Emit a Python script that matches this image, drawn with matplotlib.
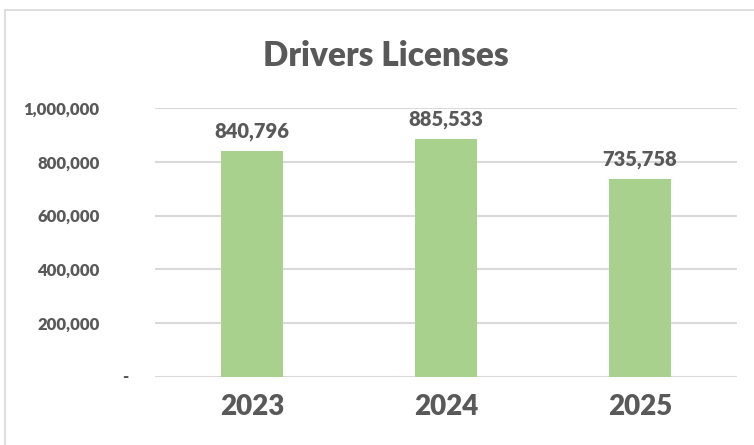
import matplotlib
matplotlib.use("Agg")
import matplotlib.pyplot as plt
from matplotlib.patches import Rectangle
from matplotlib.ticker import FuncFormatter

years = ["2023", "2024", "2025"]
licenses = [840796, 885533, 735758]
y_ticks = [0, 200000, 400000, 600000, 800000, 1000000]

plt.rcParams['font.family'] = ['Lato', 'DejaVu Sans']
text_color = "#595959"
weight = "heavy"

fig = plt.figure(figsize=(7.54, 4.45), dpi=100)
ax = fig.add_axes([0.2056, 0.1528, 0.7719, 0.6045])

# light chart border like the spreadsheet frame
fig.patches.append(Rectangle((5 / 754, -0.1), 1.2, 1.1 - 10 / 445, transform=fig.transFigure,
                             fill=False, edgecolor="#D9D9D9", linewidth=1.2))

x = range(len(years))
bars = ax.bar(x, licenses, width=0.32, color="#A9D18E", zorder=3)

for rect, val in zip(bars, licenses):
    ax.annotate(f"{val:,}", (rect.get_x() + rect.get_width() / 2, val),
                xytext=(0, 7), textcoords="offset points", ha="center", va="bottom",
                fontsize=14.5, fontweight=weight, color=text_color)

ax.set_xlim(-0.5, 2.5)
ax.set_ylim(0, 1000000)
ax.set_yticks(y_ticks)
# zero is drawn as an accounting-style dash, placed separately below
ax.yaxis.set_major_formatter(FuncFormatter(lambda v, p: "" if v == 0 else f"{int(v):,}"))
ax.text(-0.0515, 0, "-", transform=ax.get_yaxis_transform(), ha="center", va="center",
        fontsize=12, fontweight=weight, color=text_color)
ax.set_xticks(list(x))
ax.set_xticklabels(years)

ax.grid(axis="y", color="#D9D9D9", linewidth=1.5, zorder=0)
for s in ax.spines.values():
    s.set_visible(False)
ax.tick_params(axis="both", length=0)
ax.tick_params(axis="y", pad=40, labelsize=12, labelcolor=text_color)
ax.tick_params(axis="x", pad=12, labelsize=20, labelcolor=text_color)
for lbl in ax.get_yticklabels():
    lbl.set_fontweight(weight)
    lbl.set_horizontalalignment("right")
for lbl in ax.get_xticklabels():
    lbl.set_fontweight(weight)

fig.text(0.512, 0.875, "Drivers Licenses", ha="center", va="center",
         fontsize=24, fontweight=weight, color=text_color)

fig.savefig("out.png", dpi=100)
